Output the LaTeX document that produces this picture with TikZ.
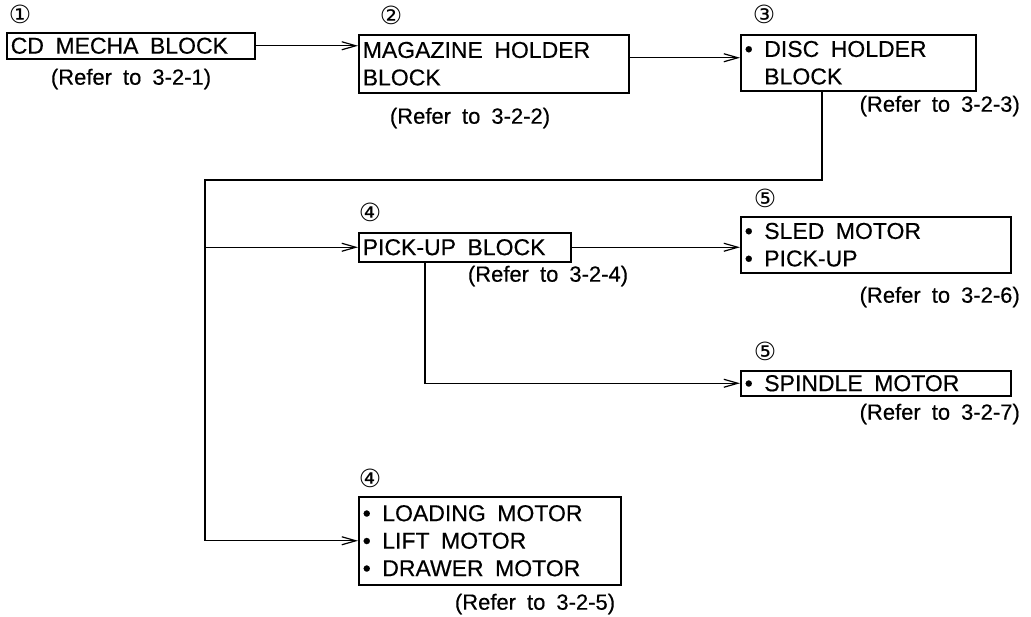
\documentclass[tikz,border=0pt]{standalone}
\usepackage{fontspec}
\setmainfont{Liberation Sans}
\newfontfamily\heavyfont[FakeBold=0.4]{Liberation Sans}
\newfontfamily\circfont{DejaVu Sans}
\usetikzlibrary{arrows.meta,positioning}
\newcommand\boxfont{\heavyfont\fontsize{23}{27.5}\selectfont}
\newcommand\reffont{\heavyfont\fontsize{22}{22}\selectfont}
\newcommand\circnum{\circfont\fontsize{25}{25}\selectfont}

\begin{document}
\begin{tikzpicture}[x=1pt,y=-1pt,>={Straight Barb[length=14pt,width=8pt]},
  blk/.style={draw,line width=1.5pt,anchor=north west,align=left,inner xsep=4pt,inner ysep=0pt,
    font=\boxfont,text width=#1,execute at begin node={\spaceskip=0.5em plus 0.1em\relax}},
  num/.style={font=\circnum,inner sep=0pt},
  ref/.style={font=\reffont,inner sep=0pt,execute at begin node={\spaceskip=0.5em plus 0.1em\relax}},
  link/.style={line width=1.2pt,->}]
\useasboundingbox (0,0) rectangle (1031,616);
% blocks
\node[blk=240pt,minimum height=26pt] (mecha) at (6,32) {CD MECHA BLOCK};
\node[blk=262pt,minimum height=58pt] (magazine) at (358,34) {MAGAZINE HOLDER\\BLOCK};
\node[blk=227pt,minimum height=56pt] (disc) at (740,34) {\textbullet\ DISC HOLDER\\\phantom{\textbullet\ }BLOCK};
\node[blk=204pt,minimum height=29pt] (pickup) at (358,232) {PICK-UP BLOCK};
\node[blk=262pt,minimum height=56pt] (sled) at (740,216) {\textbullet\ SLED MOTOR\\\textbullet\ PICK-UP};
\node[blk=262pt,minimum height=25pt] (spindle) at (740,370) {\textbullet\ SPINDLE MOTOR};
\node[blk=254pt,minimum height=88pt] (loading) at (358,496) {\textbullet\ LOADING MOTOR\\\textbullet\ LIFT MOTOR\\\textbullet\ DRAWER MOTOR};
% numbers
\node[num] (n1) at (20,14) {①};
\node[num] (n2) at (391,15) {②};
\node[num] (n3) at (764,14) {③};
\node[num] (n4) at (370,212) {④};
\node[num] (n5) at (765,198) {⑤};
\node[num] (n6) at (765,351) {⑤};
\node[num] (n7) at (370,478) {④};
% references
\node[ref] (r1) at (131,79) {(Refer to 3-2-1)};
\node[ref] (r2) at (470,118) {(Refer to 3-2-2)};
\node[ref,anchor=east] (r3) at (1020,106) {(Refer to 3-2-3)};
\node[ref] (r4) at (548,276) {(Refer to 3-2-4)};
\node[ref,anchor=east] (r6) at (1020,297) {(Refer to 3-2-6)};
\node[ref,anchor=east] (r7) at (1020,414) {(Refer to 3-2-7)};
\node[ref] (r5) at (535,604) {(Refer to 3-2-5)};
% connectors
\coordinate (top) at (822,180);
\coordinate (left) at (205,180);
\draw[link] (mecha.east) -- (mecha.east -| magazine.west);
\draw[link] ([yshift=6pt]magazine.east) -- ([yshift=6pt]magazine.east -| disc.west);
\draw[link] (top |- disc.south) -- (top) -- (left) |- (loading.west);
\draw[link] (left |- pickup.west) -- (pickup.west);
\draw[link] (pickup.east) -- (pickup.east -| sled.west);
\draw[link] ([xshift=67pt]pickup.south west) |- (spindle.west);
\end{tikzpicture}
\end{document}
